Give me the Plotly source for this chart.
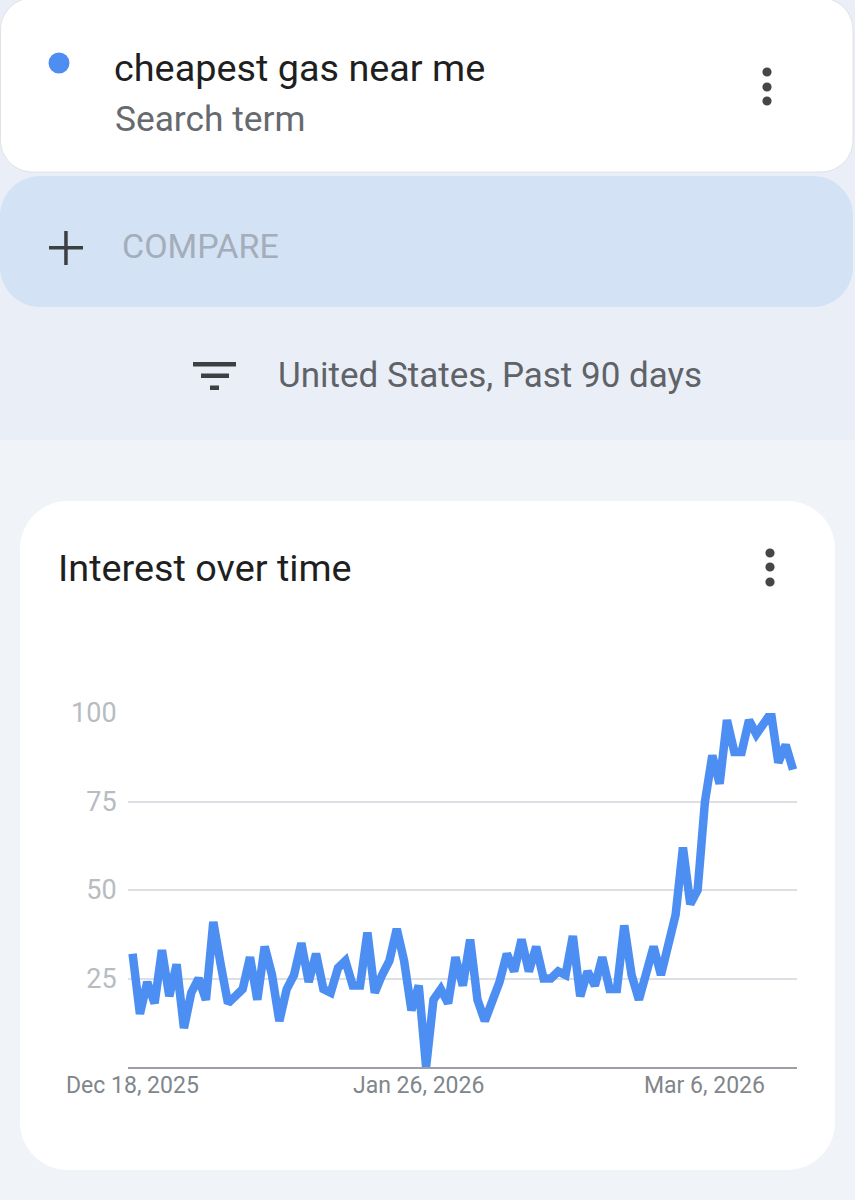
import plotly.graph_objects as go
import pandas as pd

# ---------------- data ----------------
start_date = "2025-12-18"
interest = [32, 15, 24, 18, 33, 20, 29, 11, 21, 25,
            19, 41, 29, 18, 20, 22, 31, 19, 34, 26,
            13, 22, 26, 35, 24, 32, 22, 21, 28, 30,
            23, 23, 38, 21, 26, 30, 39, 30, 16, 23,
            0, 19, 22, 18, 31, 23, 36, 19, 13, 18,
            24, 32, 27, 36, 27, 34, 25, 25, 27, 26,
            37, 20, 27, 23, 31, 22, 22, 40, 26, 19,
            26, 34, 26, 35, 43, 62, 46, 50, 75, 88,
            80, 98, 89, 89, 98, 94, 97, 100, 86, 91,
            84]
dates = pd.date_range(start_date, periods=len(interest), freq="D")
x_tick_dates = ["2025-12-18", "2026-01-26", "2026-03-06"]
x_tick_labels = ["Dec 18, 2025", "Jan 26, 2026", "Mar 6, 2026"]
y_tick_vals = [25, 50, 75, 100]
search_term = "cheapest gas near me"

# ---------------- geometry ----------------
W, H = 855, 1200
L, R, T, B = 128, 58, 713, 133
PW, PH = W - L - R, H - T - B


def px(x):
    return (x - L) / PW


def py(y):
    return 1 - (y - T) / PH


def rrect(x0, y0, x1, y1, r):
    k = 0.5523 * r
    pts = []
    pts.append(f"M {px(x0 + r)} {py(y0)}")
    pts.append(f"L {px(x1 - r)} {py(y0)}")
    pts.append(f"C {px(x1 - r + k)} {py(y0)} {px(x1)} {py(y0 + r - k)} {px(x1)} {py(y0 + r)}")
    pts.append(f"L {px(x1)} {py(y1 - r)}")
    pts.append(f"C {px(x1)} {py(y1 - r + k)} {px(x1 - r + k)} {py(y1)} {px(x1 - r)} {py(y1)}")
    pts.append(f"L {px(x0 + r)} {py(y1)}")
    pts.append(f"C {px(x0 + r - k)} {py(y1)} {px(x0)} {py(y1 - r + k)} {px(x0)} {py(y1 - r)}")
    pts.append(f"L {px(x0)} {py(y0 + r)}")
    pts.append(f"C {px(x0)} {py(y0 + r - k)} {px(x0 + r - k)} {py(y0)} {px(x0 + r)} {py(y0)}")
    pts.append("Z")
    return " ".join(pts)


shapes = []


def add_rect(x0, y0, x1, y1, color, layer="below"):
    shapes.append(dict(type="rect", xref="paper", yref="paper",
                       x0=px(x0), x1=px(x1), y0=py(y1), y1=py(y0),
                       fillcolor=color, line=dict(width=0), layer=layer))


def add_circle(cx, cy, r, color):
    shapes.append(dict(type="circle", xref="paper", yref="paper",
                       x0=px(cx - r), x1=px(cx + r), y0=py(cy + r), y1=py(cy - r),
                       fillcolor=color, line=dict(width=0), layer="above"))


# page background split
add_rect(0, 440, W, H, "#f0f4f9")
# top card
shapes.append(dict(type="path", xref="paper", yref="paper",
                   path=rrect(0.5, -2, 853, 172, 32),
                   fillcolor="#ffffff", line=dict(color="#dfe2e6", width=1), layer="below"))
# compare card
shapes.append(dict(type="path", xref="paper", yref="paper",
                   path=rrect(0, 176, 853, 307, 40),
                   fillcolor="#d3e2f5", line=dict(width=0), layer="below"))
# chart card
shapes.append(dict(type="path", xref="paper", yref="paper",
                   path=rrect(20, 501, 835, 1170, 48),
                   fillcolor="#ffffff", line=dict(width=0), layer="below"))

# blue dot
add_circle(59, 63, 10.5, "#4e8df1")
# kebab menus
for cy in (72, 87, 101):
    add_circle(767, cy, 4.6, "#444746")
for cy in (553, 567, 582):
    add_circle(770, cy, 4.6, "#444746")
# plus sign
add_rect(49, 246, 83, 249.5, "#3c4043", layer="above")
add_rect(64.2, 231, 67.7, 265, "#3c4043", layer="above")
# filter icon
add_rect(193, 362, 236, 366.5, "#3c4043", layer="above")
add_rect(201, 373.5, 229, 378, "#3c4043", layer="above")
add_rect(210, 385.5, 219, 390, "#3c4043", layer="above")

FONT = "Roboto, Arial, sans-serif"


def ann(text, x, y, size, color):
    return dict(text=text, xref="paper", yref="paper", x=px(x), y=py(y),
                xanchor="left", yanchor="middle", showarrow=False,
                font=dict(family=FONT, size=size, color=color))


annotations = [
    ann(search_term, 112, 68, 37.8, "#1f1f1f"),
    ann("Search term", 113, 119, 35.3, "#666a6e"),
    ann("COMPARE", 120, 246, 34, "#a4adb9"),
    ann("United States, Past 90 days", 276, 375, 35, "#5f6368"),
    ann("Interest over time", 56, 568, 37.8, "#1f1f1f"),
]
# x-axis tick labels (placed as text at their dates)
for d, lab in zip(x_tick_dates, x_tick_labels):
    annotations.append(dict(text=lab, xref="x", yref="paper", x=d, y=py(1085),
                            xanchor="center", yanchor="middle", showarrow=False,
                            font=dict(family=FONT, size=23, color="#80868b")))

fig = go.Figure()
fig.add_trace(go.Scatter(
    x=dates, y=interest, mode="lines",
    line=dict(color="#4d8ef2", width=8.5),
    hoverinfo="skip", showlegend=False,
))

fig.update_layout(
    width=W, height=H,
    margin=dict(l=L, r=R, t=T, b=B, pad=0),
    paper_bgcolor="#eaeff7",
    plot_bgcolor="rgba(0,0,0,0)",
    shapes=shapes,
    annotations=annotations,
    showlegend=False,
    xaxis=dict(
        type="date",
        range=["2025-12-17 09:00", "2026-03-18 13:00"],
        tickvals=x_tick_dates, showticklabels=False,
        showgrid=False, zeroline=False,
        showline=True, linecolor="#9aa0a6", linewidth=2,
        ticks="",
        fixedrange=True,
    ),
    yaxis=dict(
        range=[0, 100],
        tickvals=y_tick_vals,
        showgrid=True, gridcolor="#dcdfe3", gridwidth=2,
        zeroline=False, showline=False,
        ticks="outside", ticklen=5, tickcolor="rgba(0,0,0,0)",
        tickfont=dict(family=FONT, size=27, color="#b8bcc1"),
        fixedrange=True,
    ),
)

fig.write_html("out.html", config={"displayModeBar": False})
